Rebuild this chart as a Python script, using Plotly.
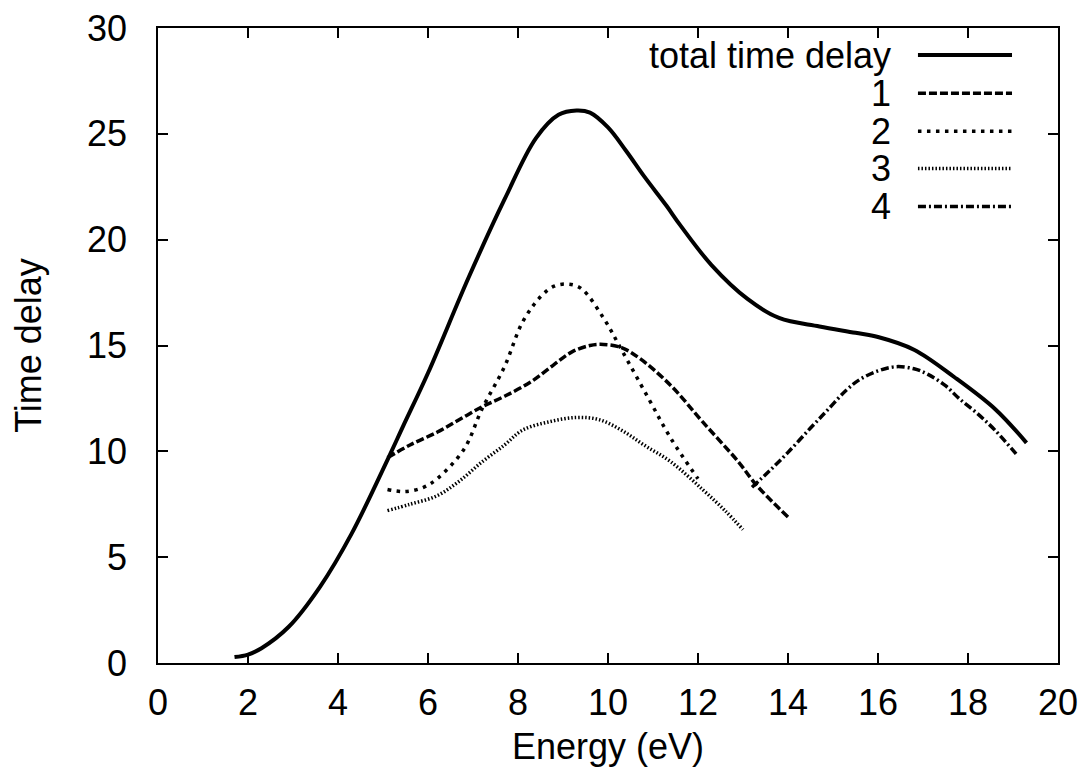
import plotly.graph_objects as go

# total time delay
total_x = [1.7, 2.0, 2.3, 2.9, 3.6, 4.3, 5.1, 5.45, 6.0, 6.9, 7.7, 8.4, 8.9, 9.3, 9.6, 10.0, 10.4, 10.8, 11.3, 11.6, 12.3, 13.1, 13.8, 14.7, 15.5, 16.0, 16.8, 17.7, 18.6, 19.3]
total_y = [0.28, 0.4, 0.7, 1.7, 3.6, 6.1, 9.6, 11.2, 13.7, 18.2, 21.9, 24.8, 25.9, 26.1, 26.0, 25.3, 24.2, 23.0, 21.6, 20.7, 18.8, 17.2, 16.3, 15.9, 15.6, 15.4, 14.8, 13.5, 12.0, 10.4]

c1_x = [5.1, 5.6, 6.2, 6.7, 7.2, 7.7, 8.3, 8.8, 9.2, 9.6, 9.9, 10.3, 10.7, 11.4, 12.1, 12.9, 13.3, 14.0]
c1_y = [9.7, 10.3, 10.9, 11.5, 12.1, 12.6, 13.3, 14.1, 14.7, 15.0, 15.05, 14.9, 14.4, 13.1, 11.4, 9.5, 8.4, 6.9]

c2_x = [5.1, 5.5, 5.9, 6.2, 6.8, 7.2, 7.7, 8.1, 8.5, 8.8, 9.1, 9.4, 9.9, 10.3, 10.9, 11.4, 12.0]
c2_y = [8.2, 8.1, 8.3, 8.7, 10.1, 12.0, 14.0, 16.1, 17.3, 17.8, 17.9, 17.7, 16.3, 14.8, 12.5, 10.6, 8.7]

c3_x = [5.1, 5.6, 6.2, 6.7, 7.2, 7.7, 8.1, 8.7, 9.3, 9.8, 10.3, 10.8, 11.4, 12.1, 12.6, 13.0]
c3_y = [7.2, 7.5, 7.9, 8.6, 9.5, 10.3, 11.0, 11.4, 11.6, 11.5, 11.0, 10.3, 9.5, 8.2, 7.2, 6.3]

c4_x = [13.2, 13.6, 14.0, 14.5, 14.9, 15.3, 15.6, 16.0, 16.4, 16.8, 17.1, 17.5, 17.8, 18.2, 18.6, 19.1]
c4_y = [8.3, 9.1, 9.95, 11.1, 12.0, 12.9, 13.4, 13.8, 14.0, 13.9, 13.65, 13.1, 12.5, 11.8, 11.0, 9.8]

names = ["total time delay", "1", "2", "3", "4"]
xs = [total_x, c1_x, c2_x, c3_x, c4_x]
ys = [total_y, c1_y, c2_y, c3_y, c4_y]
widths = [4.0, 3.5, 3.5, 3.5, 3.5]
dashes = ["solid", "8px,3px", "3.5px,5.5px", "1.5px,2px", "8px,3px,2px,3px"]

x_ticks = list(range(0, 21, 2))
y_ticks = list(range(0, 31, 5))

FONT = "Liberation Sans, Arial, sans-serif"
FS = 36
fig = go.Figure()
for n, x, y, w, d in zip(names, xs, ys, widths, dashes):
    fig.add_trace(go.Scatter(x=x, y=y, mode="lines", name=n, showlegend=False,
                             line=dict(color="black", width=w, dash=d, shape="spline", smoothing=1.0)))

# manual legend (gnuplot style: text right, sample line at right)
leg_y = [0.9573, 0.8973, 0.8373, 0.7788, 0.7188]
for n, w, d, ly in zip(names, widths, dashes, leg_y):
    fig.add_annotation(x=0.8167, y=ly, xref="paper", yref="paper", text=n, showarrow=False,
                       xanchor="right", yanchor="middle", font=dict(size=FS, color="black", family=FONT))
    fig.add_shape(type="line", xref="paper", yref="paper", x0=0.8444, x1=0.9489, y0=ly, y1=ly,
                  line=dict(color="black", width=w, dash=d))

axis_common = dict(showgrid=False, zeroline=False, showline=True, linecolor="black", linewidth=1.5,
                   mirror="ticks", ticks="inside", ticklen=10, tickwidth=1.5, tickcolor="black",
                   automargin=False, ticklabeloverflow="allow",
                   tickfont=dict(size=FS, color="black", family=FONT))
fig.update_xaxes(range=[0, 20], tickvals=x_ticks, ticktext=[str(v) for v in x_ticks],
                 ticklabelstandoff=7,
                 title=dict(text="Energy (eV)", font=dict(size=FS, color="black", family=FONT), standoff=12),
                 **axis_common)
fig.update_yaxes(range=[0, 30], tickvals=y_ticks, ticktext=[str(v) for v in y_ticks],
                 ticklabelstandoff=22,
                 title=dict(text="Time delay", font=dict(size=FS, color="black", family=FONT), standoff=48),
                 **axis_common)
# page body has an 8px margin, so the figure is shrunk/shifted to keep the plot area in place
fig.update_layout(width=1079, height=774, plot_bgcolor="white", paper_bgcolor="white",
                  margin=dict(l=150, r=29, t=20, b=119), font=dict(family=FONT, color="black"))
fig.write_html("out.html")
